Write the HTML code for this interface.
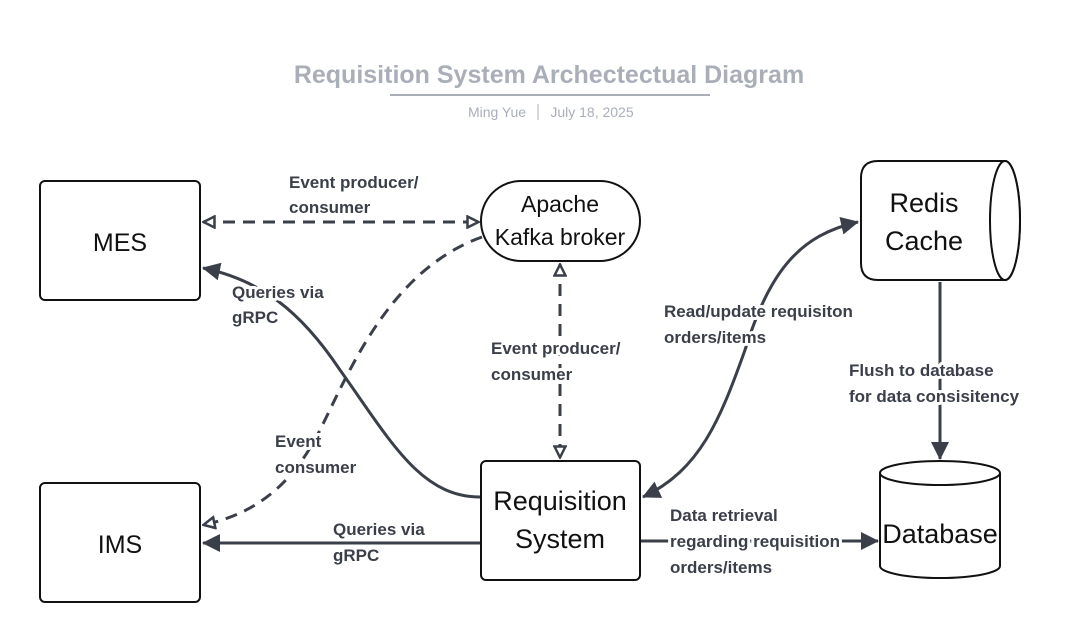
<!DOCTYPE html>
<html><head><meta charset="utf-8"><style>
body{margin:0;background:#fff;}
svg{display:block;font-family:"Liberation Sans",sans-serif;}
.lb{font-size:17px;font-weight:bold;fill:#3a3f4a;}
.nd{font-size:27px;fill:#111;}
</style></head><body>
<svg width="1071" height="643" viewBox="0 0 1071 643">
<defs>
<marker id="h" viewBox="0 0 14 14" refX="13" refY="7" markerWidth="14" markerHeight="14" markerUnits="userSpaceOnUse" orient="auto-start-reverse">
<path d="M1.5,1.5 L12.5,7 L1.5,12.5 Z" fill="#fff" stroke="#3a3f4a" stroke-width="2.5"/></marker>
<marker id="f" viewBox="0 0 18 18" refX="17" refY="9" markerWidth="18" markerHeight="18" markerUnits="userSpaceOnUse" orient="auto-start-reverse">
<path d="M0,0 L18,9 L0,18 Z" fill="#3a3f4a"/></marker>
</defs>
<text x="549" y="83" text-anchor="middle" font-size="25" font-weight="bold" fill="#a9aeb8">Requisition System Archectectual Diagram</text>
<line x1="390" y1="95" x2="710" y2="95" stroke="#a9aeb8" stroke-width="2"/>
<text x="497" y="117" text-anchor="middle" font-size="14" fill="#a9aeb8">Ming Yue</text>
<line x1="538" y1="104" x2="538" y2="120" stroke="#a9aeb8" stroke-width="1"/>
<text x="592" y="117" text-anchor="middle" font-size="14" fill="#a9aeb8">July 18, 2025</text>

<g fill="none" stroke="#3a3f4a" stroke-width="3">
<line x1="203" y1="222" x2="479" y2="222" stroke-dasharray="12,8" marker-start="url(#h)" marker-end="url(#h)"/>
<path d="M482,237 C390,270 350,370 320,430 C290,490 250,515 203,525" stroke-dasharray="12,8" marker-end="url(#h)"/>
<line x1="560" y1="264" x2="560" y2="458" stroke-dasharray="12,8" marker-start="url(#h)" marker-end="url(#h)"/>
<path d="M480,497 C420,497 390,440 340,370 C300,310 260,280 203,268" marker-end="url(#f)"/>
<line x1="480" y1="543" x2="203" y2="543" marker-end="url(#f)"/>
<path d="M643,497 C700,470 720,420 745,350 C770,270 800,235 858,222" marker-start="url(#f)" marker-end="url(#f)"/>
<line x1="940" y1="282" x2="940" y2="459" marker-end="url(#f)"/>
<line x1="641" y1="541" x2="878" y2="541" marker-end="url(#f)"/>
</g>

<g fill="#fff" stroke="#111" stroke-width="2">
<rect x="40" y="181" width="160" height="119" rx="5"/>
<rect x="40" y="483" width="160" height="119" rx="5"/>
<rect x="481" y="181" width="159" height="80" rx="40"/>
<rect x="481" y="461" width="159" height="119" rx="5"/>
<path d="M878,161 L1005,161 A15,59.5 0 0 1 1005,280 L878,280 Q861,280 861,263 L861,178 Q861,161 878,161 Z"/>
<ellipse cx="1005" cy="220.5" rx="15" ry="59.5"/>
<path d="M880,473 A60,12 0 0 1 1000,473 L1000,566 A60,12 0 0 1 880,566 Z"/>
<path d="M880,473 A60,12 0 0 0 1000,473" fill="none"/>
</g>

<g class="nd">
<text x="120" y="251" text-anchor="middle" font-size="25">MES</text>
<text x="120" y="553" text-anchor="middle" font-size="25">IMS</text>
<text x="560" y="212" text-anchor="middle" font-size="23">Apache</text>
<text x="560" y="245" text-anchor="middle" font-size="23">Kafka broker</text>
<text x="560" y="510" text-anchor="middle">Requisition</text>
<text x="560" y="548" text-anchor="middle">System</text>
<text x="924" y="212" text-anchor="middle">Redis</text>
<text x="924" y="250" text-anchor="middle">Cache</text>
<text x="940" y="543" text-anchor="middle">Database</text>
</g>

<g class="lb" stroke="#fff" stroke-width="6" paint-order="stroke" stroke-linejoin="round">
<text x="289" y="188">Event producer/</text>
<text x="289" y="213">consumer</text>
<text x="232" y="298">Queries via</text>
<text x="232" y="323">gRPC</text>
<text x="491" y="354">Event producer/</text>
<text x="491" y="380">consumer</text>
<text x="275" y="447">Event</text>
<text x="275" y="473">consumer</text>
<text x="333" y="535">Queries via</text>
<text x="333" y="561">gRPC</text>
<text x="664" y="317">Read/update requisiton</text>
<text x="664" y="343">orders/items</text>
<text x="849" y="376">Flush to database</text>
<text x="849" y="402">for data consisitency</text>
<text x="670" y="521">Data retrieval</text>
<text x="670" y="547">regarding requisition</text>
<text x="670" y="573">orders/items</text>
</g>
</svg>
</body></html>
